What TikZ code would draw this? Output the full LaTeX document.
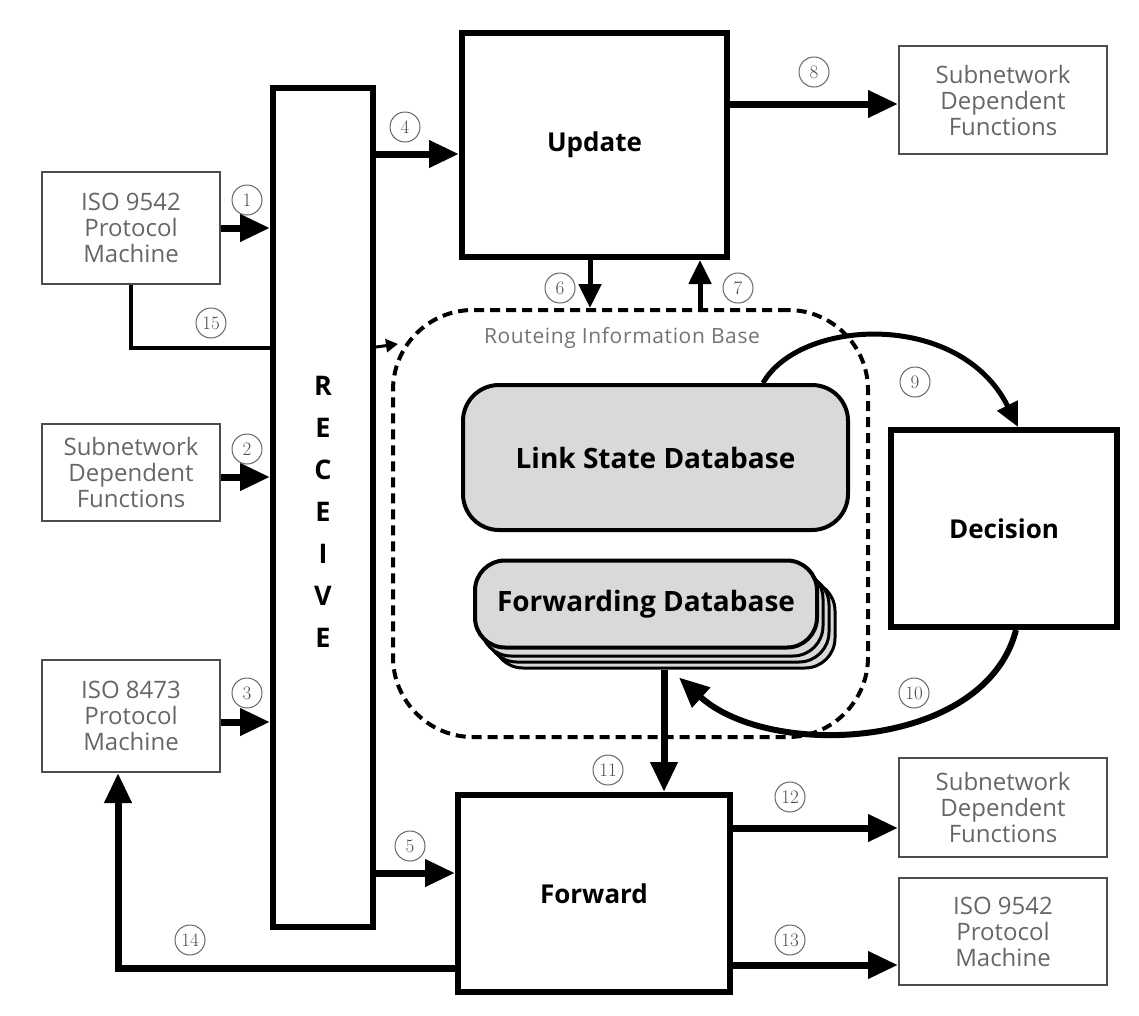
\documentclass[tikz,border=0pt]{standalone}
\usepackage{fontspec}
\setsansfont{Open Sans}
\newfontfamily\ribfont[LetterSpace=3]{Open Sans}
\usetikzlibrary{arrows.meta, positioning, calc}

\begin{document}
\begin{tikzpicture}[x=1pt, y=-1pt,
    ext/.style={draw=black!70, line width=2pt, text=black!60, align=center, minimum width=178pt, inner sep=0pt, font=\sffamily\fontsize{24}{26}\selectfont},
    block/.style={draw, line width=6pt, inner sep=0pt, font=\sffamily\bfseries\fontsize{26}{28}\selectfont},
    db/.style={draw, line width=4pt, fill=black!15, rounded corners=36pt, inner sep=0pt, font=\sffamily\bfseries\fontsize{28}{30}\selectfont},
    num/.style={circle, draw=black!60, line width=1pt, minimum size=30pt, inner sep=0pt, text=black!70, font=\fontsize{19}{19}\selectfont},
    flow/.style={line width=7pt, -{Triangle[length=30pt,width=26pt]}},
    flowsm/.style={line width=5pt, -{Triangle[length=24pt,width=22pt]}},
    link/.style={line width=4pt},
    rib/.style={draw, line width=4pt, dash pattern=on 10pt off 6pt, rounded corners=80pt}
]
    \useasboundingbox (0,0) rectangle (1139,1015);

    % Outside functions
    \node[ext, minimum height=112pt] (pm9542) at (131,228) {ISO 9542\\Protocol\\Machine};
    \node[ext, minimum height=97pt] (sndf) at (131,472) {Subnetwork\\Dependent\\Functions};
    \node[ext, minimum height=112pt] (pm8473) at (131,716) {ISO 8473\\Protocol\\Machine};
    \node[ext, minimum width=208pt, minimum height=108pt] (sndfu) at (1003,100) {Subnetwork\\Dependent\\Functions};
    \node[ext, minimum width=208pt, minimum height=99pt] (sndff) at (1003,807.5) {Subnetwork\\Dependent\\Functions};
    \node[ext, minimum width=208pt, minimum height=107pt] (pmout) at (1003,931.5) {ISO 9542\\Protocol\\Machine};

    % Processes
    \node[block, minimum width=100pt, minimum height=839pt] (recv) at (323,507.5) {};
    \node[font=\sffamily\bfseries\fontsize{27}{42}\selectfont, align=center] (recvtxt) at (323,512) {R\\E\\C\\E\\I\\V\\E};
    \node[block, minimum width=265pt, minimum height=224pt] (upd) at (594.5,145) {Update};
    \node[block, minimum width=226pt, minimum height=197pt] (dec) at (1004,528.5) {Decision};
    \node[block, minimum width=272pt, minimum height=197pt] (fwd) at (594,893.5) {Forward};

    % Routeing information base
    \node[rib, minimum width=475pt, minimum height=427pt] (ribx) at (630.5,523.5) {};
    \node[text=black!55, font=\ribfont\fontsize{21}{24}\selectfont] (ribname) at (622,338) {Routeing Information Base};
    \node[db, minimum width=385pt, minimum height=145pt] (lsdb) at (655.5,457.5) {Link State Database};
    \foreach \k in {3,2,1}
        \node[db, line width=3pt, rounded corners=30pt, minimum width=342pt, minimum height=87pt] (fdb\k) at ($(646,606.5)+(6*\k,6*\k)$) {};
    \node[db, rounded corners=30pt, minimum width=342pt, minimum height=87pt] (fdb) at (646,604) {Forwarding Database};

    % Flows into Receive
    \draw[flow] (pm9542.east) -- (pm9542.east -| recv.west);
    \draw[flow] (sndf.east |- 0,477) -- (recv.west |- 0,477);
    \draw[flow] (pm8473.east |- 0,722) -- (recv.west |- 0,722);
    \draw[link] (pm9542.south) |- (recv.west |- 0,348);

    % Flows out of Receive
    \draw[flow] (recv.east |- 0,154) -- (upd.west |- 0,154);
    \draw[flow] (recv.east |- 0,873) -- (fwd.west |- 0,873);
    \draw[line width=3pt, -{Triangle[length=12pt,width=13pt]}] (recv.east |- 0,347) -- (398,344);

    % Update
    \draw[flow] (upd.east |- 0,104) -- (sndfu.west |- 0,104);
    \draw[flowsm] (upd.south -| 590,0) -- (ribx.north -| 590,0);
    \draw[flowsm] (ribx.north -| 700,0) -- (upd.south -| 700,0);

    % Decision
    \draw[flowsm] (lsdb.north -| 763,0) .. controls (800,318) and (960,310) .. (dec.north -| 1018,0);
    \draw[flow, line width=6pt] (dec.south -| 1016,0) .. controls (985,750) and (770,760) .. ($(fdb3.south)+(15,8)$);

    % Forward
    \draw[flow] (fdb3.south) -- (fdb3.south |- fwd.north);
    \draw[flow] (fwd.east |- 0,828) -- (sndff.west |- 0,828);
    \draw[flow] (fwd.east |- 0,965) -- (pmout.west |- 0,965);
    \draw[flow] (fwd.west |- 0,968) -| ($(pm8473.south)+(-13,0)$);

    % Flow numbers
    \node[num] (n1) at (247,200) {1};
    \node[num] (n2) at (247,449) {2};
    \node[num] (n3) at (247,693) {3};
    \node[num] (n4) at (405,127) {4};
    \node[num] (n5) at (410,846) {5};
    \node[num] (n6) at (560,288) {6};
    \node[num] (n7) at (738,288) {7};
    \node[num] (n8) at (814,72) {8};
    \node[num] (n9) at (915,382) {9};
    \node[num] (n10) at (914,693) {10};
    \node[num] (n11) at (608,770) {11};
    \node[num] (n12) at (790,797) {12};
    \node[num] (n13) at (790,940) {13};
    \node[num] (n14) at (190,940) {14};
    \node[num] (n15) at (211,323) {15};
\end{tikzpicture}
\end{document}
